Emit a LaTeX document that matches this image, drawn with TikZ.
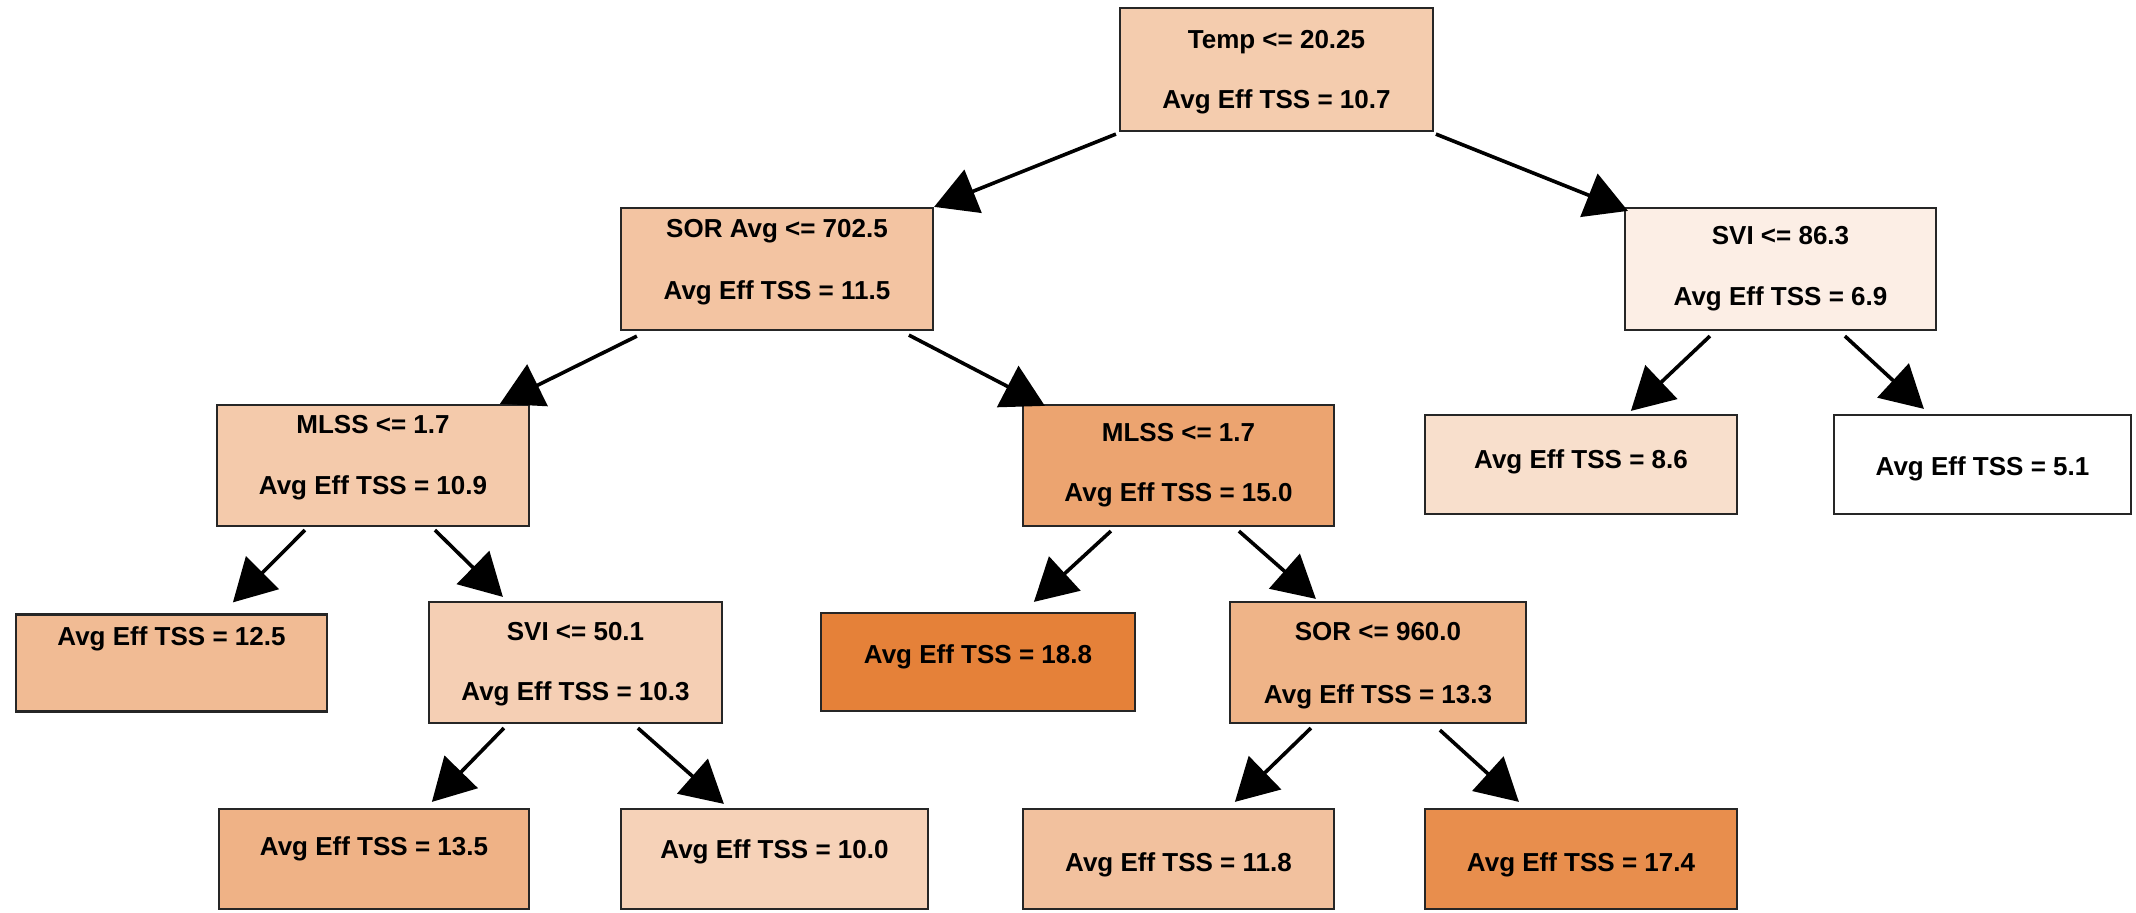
\documentclass[tikz,border=0pt]{standalone}
\usepackage{fontspec}
\setmainfont{Liberation Sans}
\usetikzlibrary{arrows.meta,calc}
\definecolor{c107}{HTML}{F4CCAE}
\definecolor{c115}{HTML}{F3C4A2}
\definecolor{c69}{HTML}{FCEEE5}
\definecolor{c109}{HTML}{F4CAAB}
\definecolor{c150}{HTML}{ECA470}
\definecolor{c86}{HTML}{F8DFCC}
\definecolor{c51}{HTML}{FFFFFF}
\definecolor{c125}{HTML}{F1BB94}
\definecolor{c103}{HTML}{F5CFB4}
\definecolor{c188}{HTML}{E58139}
\definecolor{c133}{HTML}{EFB488}
\definecolor{c135}{HTML}{EFB286}
\definecolor{c100}{HTML}{F6D2B8}
\definecolor{c118}{HTML}{F2C19E}
\definecolor{c174}{HTML}{E88E4D}
\tikzset{
  box/.style={draw=black!85, line width=1.1pt, rectangle, inner sep=0pt},
  txt/.style={font=\fontsize{13}{15}\selectfont\bfseries, anchor=base, inner sep=0pt},
  edge/.style={line width=1.8pt, -{Triangle[length=21pt,width=23pt]}}
}
\begin{document}
\begin{tikzpicture}[x=0.5pt,y=-0.5pt]
\useasboundingbox (0,0) rectangle (2136,913);
% boxes
\node[box, fill=c107, minimum width=156.5pt, minimum height=61.5pt] (root) at (1276.5,69.5) {};
\node[box, fill=c115, minimum width=156pt, minimum height=61pt] (sor) at (777,269) {};
\node[box, fill=c69, minimum width=155.5pt, minimum height=61pt] (svi) at (1780.5,269) {};
\node[box, fill=c109, minimum width=156pt, minimum height=60.5pt] (mlssl) at (373,465.5) {};
\node[box, fill=c150, minimum width=155.5pt, minimum height=60.5pt] (mlssr) at (1178.5,465.5) {};
\node[box, fill=c86, minimum width=156pt, minimum height=49.5pt] (l86) at (1581,464.5) {};
\node[box, fill=c51, minimum width=148.5pt, minimum height=49.5pt] (l51) at (1982.5,464.5) {};
\node[box, fill=c125, minimum width=155.5pt, minimum height=48.5pt] (l125) at (171.5,663) {};
\node[box, fill=c103, minimum width=146.5pt, minimum height=60.5pt] (svi50) at (575.5,662.5) {};
\node[box, fill=c188, minimum width=157pt, minimum height=49pt] (l188) at (978,662) {};
\node[box, fill=c133, minimum width=148pt, minimum height=60.5pt] (sor960) at (1378,662.5) {};
\node[box, fill=c135, minimum width=155pt, minimum height=50pt] (l135) at (374,859) {};
\node[box, fill=c100, minimum width=153.5pt, minimum height=50pt] (l100) at (774.5,859) {};
\node[box, fill=c118, minimum width=155.5pt, minimum height=50pt] (l118) at (1178.5,859) {};
\node[box, fill=c174, minimum width=156pt, minimum height=50pt] (l174) at (1581,859) {};
% texts
\node[txt] (t1a) at (1276.5,48.5) {Temp <= 20.25};
\node[txt] (t1b) at (1276.5,108.5) {Avg Eff TSS = 10.7};
\node[txt] (t2a) at (777,238) {SOR Avg <= 702.5};
\node[txt] (t2b) at (777,300) {Avg Eff TSS = 11.5};
\node[txt] (t3a) at (1780.5,245) {SVI <= 86.3};
\node[txt] (t3b) at (1780.5,306) {Avg Eff TSS = 6.9};
\node[txt] (t4a) at (373,434) {MLSS <= 1.7};
\node[txt] (t4b) at (373,495) {Avg Eff TSS = 10.9};
\node[txt] (t5a) at (1178.5,442) {MLSS <= 1.7};
\node[txt] (t5b) at (1178.5,502) {Avg Eff TSS = 15.0};
\node[txt] (t6) at (1581,469) {Avg Eff TSS = 8.6};
\node[txt] (t7) at (1982.5,476) {Avg Eff TSS = 5.1};
\node[txt] (t8) at (171.5,646) {Avg Eff TSS = 12.5};
\node[txt] (t9a) at (575.5,641) {SVI <= 50.1};
\node[txt] (t9b) at (575.5,701) {Avg Eff TSS = 10.3};
\node[txt] (t10) at (978,664) {Avg Eff TSS = 18.8};
\node[txt] (t11a) at (1378,641) {SOR <= 960.0};
\node[txt] (t11b) at (1378,704) {Avg Eff TSS = 13.3};
\node[txt] (t12) at (374,855) {Avg Eff TSS = 13.5};
\node[txt] (t13) at (774.5,858) {Avg Eff TSS = 10.0};
\node[txt] (t14) at (1178.5,871) {Avg Eff TSS = 11.8};
\node[txt] (t15) at (1581,871) {Avg Eff TSS = 17.4};
% edges
\draw[edge] ($(root.south west)+(-3,2)$) -- ($(sor.north east)+(0,0)$);
\draw[edge] ($(root.south west)+(317,2)$) -- ($(svi.north west)+(4,4)$);
\draw[edge] ($(sor.south west)+(17,5)$) -- ($(mlssl.north west)+(284,0)$);
\draw[edge] ($(sor.south west)+(289,4)$) -- ($(mlssr.north west)+(23,2)$);
\draw[edge] ($(svi.south west)+(86,5)$) -- ($(l86.north west)+(207,-3)$);
\draw[edge] ($(svi.south west)+(221,5)$) -- ($(l51.north west)+(91,-5)$);
\draw[edge] ($(mlssl.south west)+(89,3)$) -- ($(l125.north west)+(218,-11)$);
\draw[edge] ($(mlssl.south west)+(219,3)$) -- ($(svi50.north west)+(75,-4)$);
\draw[edge] ($(mlssr.south west)+(89,4)$) -- ($(l188.north west)+(214,-10)$);
\draw[edge] ($(mlssr.south west)+(217,4)$) -- ($(sor960.north west)+(87,-2)$);
\draw[edge] ($(svi50.south west)+(76,4)$) -- ($(l135.north west)+(214,-6)$);
\draw[edge] ($(svi50.south west)+(210,4)$) -- ($(l100.north west)+(104,-4)$);
\draw[edge] ($(sor960.south west)+(82,4)$) -- ($(l118.north west)+(213,-6)$);
\draw[edge] ($(sor960.south west)+(211,6)$) -- ($(l174.north west)+(95,-6)$);
\end{tikzpicture}
\end{document}
